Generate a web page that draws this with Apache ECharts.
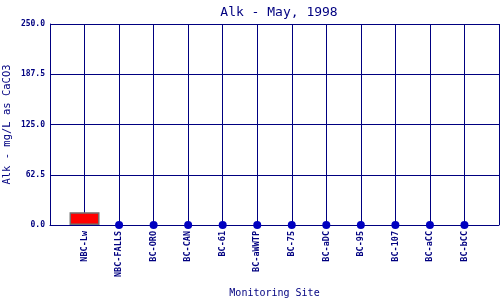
<!DOCTYPE html>
<html><head><meta charset="utf-8">
<script src="https://cdn.jsdelivr.net/npm/echarts@6/dist/echarts.min.js"></script>
<style>html,body{margin:0;padding:0;background:#fff}#c{width:500px;height:300px}</style>
</head><body><div id="c"></div>
<script>
const sites = ["NBC-Lw","NBC-FALLS","BC-ORO","BC-CAN","BC-61","BC-aWWTP","BC-75","BC-aDC","BC-95","BC-107","BC-aCC","BC-bCC"];
const barValues = [16, null, null, null, null, null, null, null, null, null, null, null];
const pointValues = [null, 0, 0, 0, 0, 0, 0, 0, 0, 0, 0, 0];
const yTicks = [0, 62.5, 125, 187.5, 250];

const navy = "#000080";
const mono = "'DejaVu Sans Mono', 'Liberation Mono', monospace";
const chart = echarts.init(document.getElementById('c'), null, {renderer:'canvas'});
chart.setOption({
  animation:false,
  backgroundColor:'#fff',
  title:{text:"Alk - May, 1998", left:274, textAlign:'center', top:1,
    textStyle:{color:navy, fontFamily:mono, fontSize:13, fontWeight:'normal'}},
  grid:{left:50, right:1, top:24, bottom:75, containLabel:false, outerBoundsMode:'none'},
  xAxis:{type:'value', min:0, max:sites.length+1, interval:1,
    name:"Monitoring Site", nameLocation:'middle', nameGap:63, nameMoveOverlap:false,
    nameTextStyle:{color:navy, fontFamily:mono, fontSize:10},
    axisLine:{show:true, lineStyle:{color:navy, width:1}},
    axisTick:{show:false},
    splitLine:{show:true, lineStyle:{color:navy, width:1}},
    axisLabel:{rotate:90, color:navy, fontFamily:mono, fontSize:8.5, fontWeight:'bold', margin:6,
      formatter:v => (v>=1 && v<=sites.length) ? sites[v-1] : ''}},
  yAxis:{type:'value', min:yTicks[0], max:yTicks[yTicks.length-1], interval:62.5,
    name:"Alk - mg/L as CaCO3", nameLocation:'middle', nameGap:37, nameMoveOverlap:false,
    nameTextStyle:{color:navy, fontFamily:mono, fontSize:10.5},
    axisLine:{show:true, lineStyle:{color:navy, width:1}},
    axisTick:{show:false},
    splitLine:{show:true, lineStyle:{color:navy, width:1}},
    axisLabel:{color:navy, fontFamily:mono, fontSize:8, fontWeight:'bold', margin:5,
      formatter:v => v.toFixed(1)}},
  series:[
    {type:'bar', barWidth:30,
     data: barValues.map((v,i)=> v==null?null:[i+1, v]).filter(d=>d),
     itemStyle:{color:'#ff0000', borderColor:'#707070', borderWidth:1.5}},
    {type:'scatter', symbolSize:8,
     data: pointValues.map((v,i)=> v==null?null:[i+1, v]).filter(d=>d),
     itemStyle:{color:'#0000c0', opacity:1}, z:5}
  ]
});
</script></body></html>
